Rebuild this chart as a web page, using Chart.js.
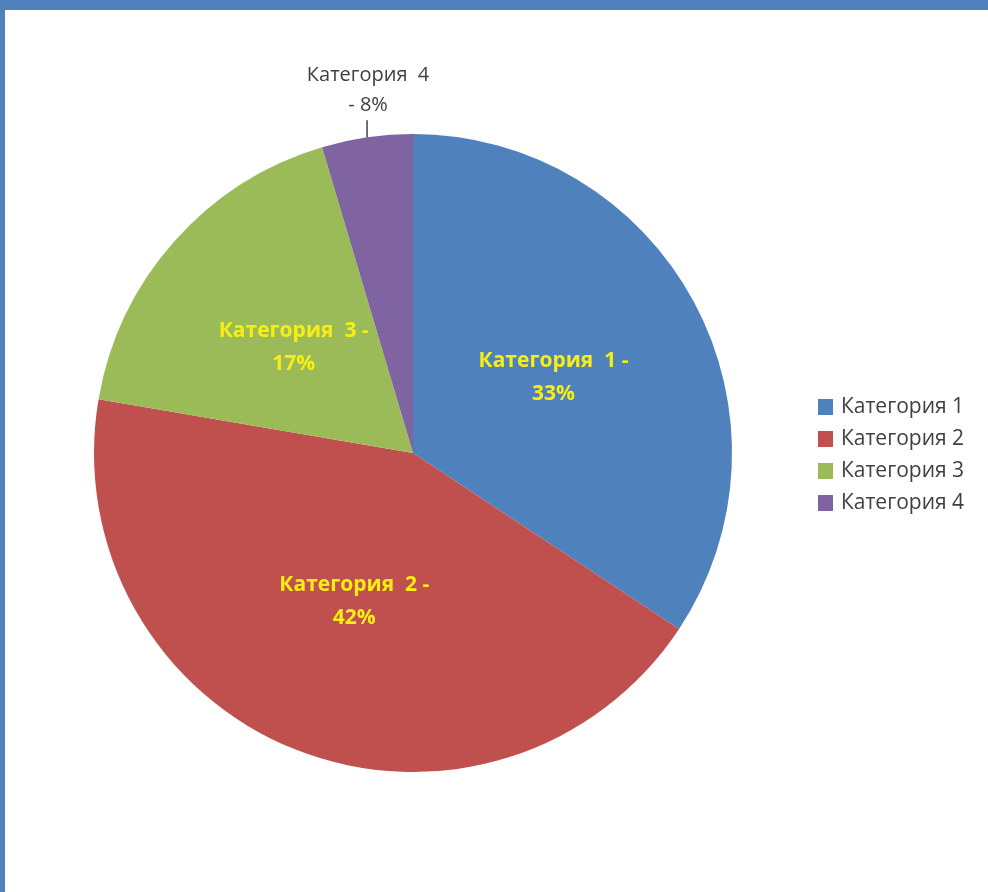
<!DOCTYPE html>
<html lang="ru">
<head>
<meta charset="utf-8">
<script src="https://cdn.jsdelivr.net/npm/chart.js@4.4.1/dist/chart.umd.min.js"></script>
<style>
    html, body { margin: 0; padding: 0; background: #ffffff; }
    body {
        width: 988px; height: 892px; box-sizing: border-box;
        border-top: 10px solid #4f81bd; border-left: 5px solid #4f81bd;
        overflow: hidden;
    }
    #wrap { position: relative; width: 983px; height: 882px; }
</style>
</head>
<body>
<div id="wrap"><canvas id="pieChart"></canvas></div>
<script>
// Data
const categories = ['Категория 1', 'Категория 2', 'Категория 3', 'Категория 4'];
const sliceValues = [34.3, 43.4, 17.7, 4.6];       // slice sizes as drawn
const labelPercents = ['33%', '42%', '17%', '8%'];  // percentages as printed on the labels
const sliceColors = ['#4f81bd', '#c0504d', '#9bbb59', '#8064a2'];

const FONT = '"Open Sans", "Noto Sans", sans-serif';

// Data labels: inside slices (bold yellow) except the small one, which gets a leader line
const pieLabels = {
    id: 'pieLabels',
    afterDatasetsDraw(chart) {
        const ctx = chart.ctx;
        const arcs = chart.getDatasetMeta(0).data;
        ctx.save();
        ctx.textAlign = 'center';
        ctx.textBaseline = 'middle';
        arcs.forEach((arc, i) => {
            const name = categories[i].replace(' ', '  ');
            if (i === 3) {
                const mid = (arc.startAngle + arc.endAngle) / 2;
                const ex = arc.x + Math.cos(mid) * arc.outerRadius;
                const ey = arc.y + Math.sin(mid) * arc.outerRadius;
                ctx.strokeStyle = '#404040';
                ctx.lineWidth = 1.5;
                ctx.beginPath();
                ctx.moveTo(ex, ey);
                ctx.lineTo(ex, ey - 17);
                ctx.stroke();
                ctx.fillStyle = '#404040';
                ctx.font = '20px ' + FONT;
                ctx.fillText(name, ex + 1, ey - 62);
                ctx.fillText('- ' + labelPercents[i], ex + 1, ey - 32);
            } else {
                const p = arc.tooltipPosition();
                ctx.fillStyle = '#f8ee14';
                ctx.font = 'bold 21px ' + FONT;
                ctx.fillText(name + ' -', p.x, p.y - 16);
                ctx.fillText(labelPercents[i], p.x, p.y + 17);
            }
        });
        ctx.restore();
    }
};

// Legend on the right, drawn from the chart's own labels and colours
const sideLegend = {
    id: 'sideLegend',
    afterDraw(chart) {
        const ctx = chart.ctx;
        const x = 813, y0 = 397, step = 32;
        ctx.save();
        ctx.textAlign = 'left';
        ctx.textBaseline = 'middle';
        ctx.font = '21px ' + FONT;
        chart.data.labels.forEach((lbl, i) => {
            const y = y0 + i * step;
            ctx.fillStyle = sliceColors[i];
            ctx.fillRect(x, y - 8, 15, 16);
            ctx.fillStyle = '#404040';
            ctx.fillText(lbl, x + 23, y);
        });
        ctx.restore();
    }
};

new Chart(document.getElementById('pieChart'), {
    type: 'pie',
    data: {
        labels: categories,
        datasets: [{
            data: sliceValues,
            backgroundColor: sliceColors,
            borderWidth: 0
        }]
    },
    options: {
        responsive: true,
        maintainAspectRatio: false,
        animation: false,
        layout: { padding: { left: 89, top: 124, right: 256, bottom: 120 } },
        plugins: {
            legend: { display: false },
            tooltip: { enabled: false }
        }
    },
    plugins: [pieLabels, sideLegend]
});
</script>
</body>
</html>
